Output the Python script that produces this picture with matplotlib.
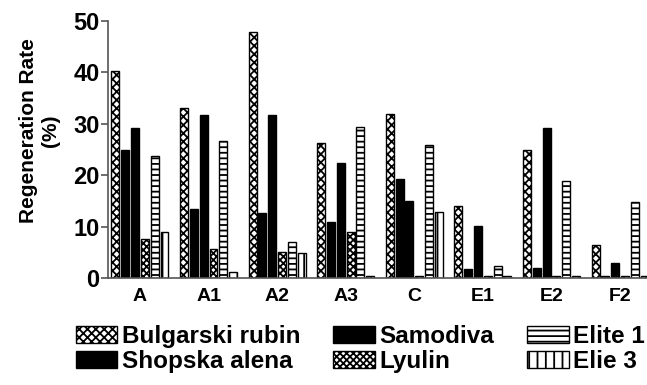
import numpy as np
import matplotlib
matplotlib.use("Agg")
from matplotlib import pyplot as plt

plt.rcParams['font.family'] = ['Liberation Sans', 'DejaVu Sans']
plt.rcParams['font.weight'] = 'bold'
plt.rcParams['hatch.linewidth'] = 1.3

# data
categories = ["A", "A1", "A2", "A3", "C", "E1", "E2", "F2"]
series_names = ["Bulgarski rubin", "Shopska alena", "Samodiva", "Lyulin", "Elite 1", "Elie 3"]
bulgarski_rubin = [40.3, 33.0, 47.9, 26.3, 32.0, 14.1, 25.0, 6.5]
shopska_alena = [25.0, 13.5, 12.6, 10.8, 19.2, 1.8, 2.0, 0.3]
samodiva = [29.2, 31.7, 31.7, 22.4, 14.9, 10.2, 29.2, 3.0]
lyulin = [7.5, 5.6, 5.1, 9.0, 0.3, 0.3, 0.3, 0.3]
elite_1 = [23.7, 26.6, 7.1, 29.4, 25.8, 2.3, 18.9, 14.7]
elie_3 = [9.0, 1.2, 4.9, 0.3, 12.8, 0.3, 0.3, 0.3]

all_series = [bulgarski_rubin, shopska_alena, samodiva, lyulin, elite_1, elie_3]
hatches = ['xxxx', None, None, 'xxxxx', '---', '||']
fills = ['white', 'black', 'black', 'white', 'white', 'white']

fig = plt.figure(figsize=(6.47, 3.85), dpi=100)
ax = fig.add_axes([108 / 647, 107 / 385, 545 / 647, 257 / 385])

x = np.arange(len(categories))
pitch = 0.143
width = 0.115
for i, vals in enumerate(all_series):
    offs = (i - 2.5) * pitch
    ax.bar(x + offs, vals, width, color=fills[i], edgecolor='black',
           hatch=hatches[i], linewidth=1.0, label=series_names[i])

ax.set_xlim(-0.466, 7.48)
ax.set_ylim(0, 50)
ax.set_yticks([0, 10, 20, 30, 40, 50])
ax.set_xticks(x)
ax.set_xticklabels(categories)

for side in ['top', 'right']:
    ax.spines[side].set_visible(False)
ax.spines['left'].set_color('#555555')
ax.spines['bottom'].set_color('#555555')
ax.spines['left'].set_linewidth(1.2)
ax.spines['bottom'].set_linewidth(1.2)

ax.tick_params(axis='y', length=5, width=1.2, color='#555555', labelsize=17, pad=1)
ax.tick_params(axis='x', length=0, labelsize=14, pad=7)

ax.set_ylabel("Regeneration Rate\n(%)", fontsize=15, fontweight='bold')
ax.yaxis.set_label_coords(-0.088, 0.572)

leg = fig.legend(loc='upper left', bbox_to_anchor=(76 / 647, 1 - 325 / 385),
                 ncol=3, frameon=False, fontsize=17.5, handlelength=1.7,
                 handleheight=0.7, handletextpad=0.2, columnspacing=1.35,
                 labelspacing=0.08, borderpad=0, borderaxespad=0)

fig.savefig("out.png", dpi=100)
